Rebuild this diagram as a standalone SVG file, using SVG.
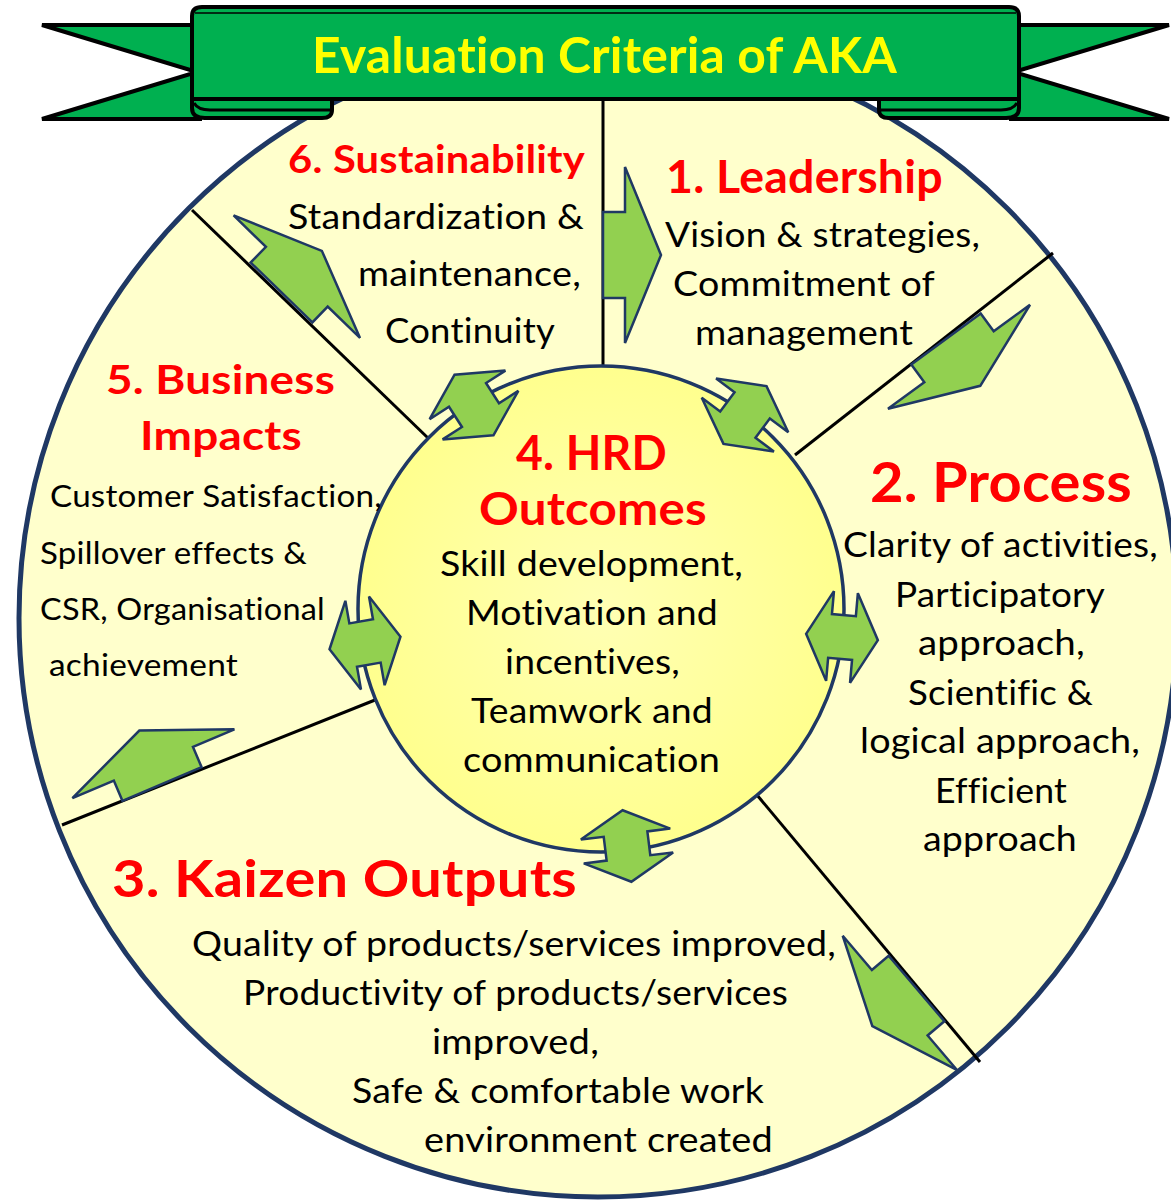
<svg xmlns="http://www.w3.org/2000/svg" width="1171" height="1200" viewBox="0 0 1171 1200">
<defs>
<style>
.t{font-family:Lato,"Open Sans","Liberation Sans",sans-serif;fill:#000;font-variant-ligatures:none;font-feature-settings:"liga" 0,"dlig" 0,"clig" 0;letter-spacing:0.2px;}
.b{font-weight:bold;fill:#FF0000;}
.body{font-size:34px;}
.spoke{stroke:#000;stroke-width:3;fill:none;}
.blk{fill:#92D050;stroke:#1F3864;stroke-width:2.5;stroke-linejoin:miter;}
.rib{fill:#00B050;stroke:#000;stroke-width:4;stroke-linejoin:miter;}
</style>
<radialGradient id="ig" cx="50%" cy="50%" r="50%">
<stop offset="0" stop-color="#FFFFB4"/>
<stop offset="1" stop-color="#FFFF8E"/>
</radialGradient>
<path id="da" d="M-36,0 L-12,-45 L-12,-22 L12,-22 L12,-45 L36,0 L12,45 L12,22 L-12,22 L-12,45 Z"/>
<path id="sa" d="M-43,0 L43,0 L43,22 L88,22 L0,58 L-88,22 L-43,22 Z"/>
</defs>
<rect width="1171" height="1200" fill="#FFFFFF"/>
<g id="outer-circle">
<circle cx="598" cy="618" r="579" fill="#FFFFCC" stroke="#1F3864" stroke-width="5"/>
</g>
<g id="connectors">
<line class="spoke" x1="603" y1="100" x2="603" y2="366"/>
<line class="spoke" x1="795" y1="455" x2="1053" y2="253"/>
<line class="spoke" x1="757" y1="795" x2="980" y2="1062"/>
<line class="spoke" x1="375" y1="700" x2="62" y2="825"/>
<line class="spoke" x1="428" y1="438" x2="192" y2="210"/>
</g>
<g id="node-4-hrd">
<circle cx="601" cy="609" r="243" fill="url(#ig)" stroke="#1F3864" stroke-width="3.5"/>
</g>
<g id="connector-arrows">
<use href="#da" class="blk" transform="translate(474,405) rotate(-122.7)"/>
<use href="#da" class="blk" transform="translate(745,415) rotate(-53.3)"/>
<use href="#da" class="blk" transform="translate(842,637) rotate(5)"/>
<use href="#da" class="blk" transform="translate(627,846) rotate(83)"/>
<use href="#da" class="blk" transform="translate(365,643) rotate(-10)"/>
<use href="#sa" class="blk" transform="translate(603,255) rotate(-90)"/>
<use href="#sa" class="blk" transform="translate(946,339) rotate(-36.2)"/>
<use href="#sa" class="blk" transform="translate(916.5,988.5) rotate(49.6)"/>
<use href="#sa" class="blk" transform="translate(162,784) rotate(157)"/>
<use href="#sa" class="blk" transform="translate(281.5,292.5) rotate(-135.9)"/>
</g>
<g id="node-6-sustainability">
<text class="t b" x="288" y="173" font-size="39" textLength="297" lengthAdjust="spacingAndGlyphs">6. Sustainability</text>
<text class="t body" x="288" y="229" textLength="296" lengthAdjust="spacingAndGlyphs">Standardization &amp;</text>
<text class="t body" x="358" y="286" textLength="223" lengthAdjust="spacingAndGlyphs">maintenance,</text>
<text class="t body" x="385" y="343" textLength="170" lengthAdjust="spacingAndGlyphs">Continuity</text>
</g>
<g id="node-1-leadership">
<text class="t b" x="666" y="193" font-size="46" textLength="277" lengthAdjust="spacingAndGlyphs">1. Leadership</text>
<text class="t body" x="665" y="247" textLength="315" lengthAdjust="spacingAndGlyphs">Vision &amp; strategies,</text>
<text class="t body" x="673" y="296" textLength="262" lengthAdjust="spacingAndGlyphs">Commitment of</text>
<text class="t body" x="695" y="345" textLength="218" lengthAdjust="spacingAndGlyphs">management</text>
</g>
<g id="node-2-process">
<text class="t b" x="870" y="502" font-size="56" textLength="262" lengthAdjust="spacingAndGlyphs">2. Process</text>
<text class="t body" x="843" y="557" textLength="315" lengthAdjust="spacingAndGlyphs">Clarity of activities,</text>
<text class="t body" x="895" y="607" textLength="210" lengthAdjust="spacingAndGlyphs">Participatory</text>
<text class="t body" x="918" y="655" textLength="167" lengthAdjust="spacingAndGlyphs">approach,</text>
<text class="t body" x="908" y="705" textLength="185" lengthAdjust="spacingAndGlyphs">Scientific &amp;</text>
<text class="t body" x="860" y="753" textLength="280" lengthAdjust="spacingAndGlyphs">logical approach,</text>
<text class="t body" x="935" y="803" textLength="132" lengthAdjust="spacingAndGlyphs">Efficient</text>
<text class="t body" x="923" y="851" textLength="154" lengthAdjust="spacingAndGlyphs">approach</text>
</g>
<g id="node-3-kaizen">
<text class="t b" x="112" y="897" font-size="51" textLength="465" lengthAdjust="spacingAndGlyphs">3. Kaizen Outputs</text>
<text class="t body" x="192" y="956" textLength="644" lengthAdjust="spacingAndGlyphs">Quality of products/services improved,</text>
<text class="t body" x="243" y="1005" textLength="545" lengthAdjust="spacingAndGlyphs">Productivity of products/services</text>
<text class="t body" x="432" y="1054" textLength="167" lengthAdjust="spacingAndGlyphs">improved,</text>
<text class="t body" x="352" y="1103" textLength="412" lengthAdjust="spacingAndGlyphs">Safe &amp; comfortable work</text>
<text class="t body" x="424" y="1152" textLength="349" lengthAdjust="spacingAndGlyphs">environment created</text>
</g>
<g id="node-4-hrd-text">
<text class="t b" x="516" y="470" font-size="47" textLength="151" lengthAdjust="spacingAndGlyphs">4. HRD</text>
<text class="t b" x="479" y="525" font-size="46" textLength="228" lengthAdjust="spacingAndGlyphs">Outcomes</text>
<text class="t body" x="440" y="576" textLength="303" lengthAdjust="spacingAndGlyphs">Skill development,</text>
<text class="t body" x="466" y="625" textLength="252" lengthAdjust="spacingAndGlyphs">Motivation and</text>
<text class="t body" x="505" y="674" textLength="175" lengthAdjust="spacingAndGlyphs">incentives,</text>
<text class="t body" x="471" y="723" textLength="242" lengthAdjust="spacingAndGlyphs">Teamwork and</text>
<text class="t body" x="463" y="772" textLength="257" lengthAdjust="spacingAndGlyphs">communication</text>
</g>
<g id="node-5-business">
<text class="t b" x="106" y="394" font-size="40" textLength="229" lengthAdjust="spacingAndGlyphs">5. Business</text>
<text class="t b" x="140" y="450" font-size="40" textLength="162" lengthAdjust="spacingAndGlyphs">Impacts</text>
<text class="t" x="50" y="507" font-size="30" textLength="332" lengthAdjust="spacingAndGlyphs">Customer Satisfaction,</text>
<text class="t" x="40" y="564" font-size="30" textLength="267" lengthAdjust="spacingAndGlyphs">Spillover effects &amp;</text>
<text class="t" x="40" y="620" font-size="30" textLength="285" lengthAdjust="spacingAndGlyphs">CSR, Organisational</text>
<text class="t" x="49" y="676" font-size="30" textLength="189" lengthAdjust="spacingAndGlyphs">achievement</text>
</g>
<g id="banner">
<path class="rib" d="M42,25 L200,25 L200,119 L42,119 L197,72 Z"/>
<path class="rib" d="M1169,25 L1011,25 L1011,119 L1169,119 L1014,72 Z"/>
<path class="rib" d="M192,99 L332,99 L332,110 Q332,118 322,118 L205,118 Q192,118 192,108 Z"/>
<path d="M194,103 Q198,110 210,110 L332,110" fill="none" stroke="#000" stroke-width="3"/>
<path class="rib" d="M1019,99 L879,99 L879,110 Q879,118 889,118 L1006,118 Q1019,118 1019,108 Z"/>
<path d="M1017,103 Q1013,110 1001,110 L879,110" fill="none" stroke="#000" stroke-width="3"/>
<path class="rib" d="M192,99 L192,16 Q192,7 202,7 L1009,7 Q1019,7 1019,16 L1019,99 Z"/>
<path d="M195,13 L1016,13" fill="none" stroke="#000" stroke-width="1.5"/>
<text class="t" x="312" y="73" font-size="49" font-weight="bold" style="fill:#FFFF00" textLength="585" lengthAdjust="spacingAndGlyphs">Evaluation Criteria of AKA</text>
</g>
</svg>
